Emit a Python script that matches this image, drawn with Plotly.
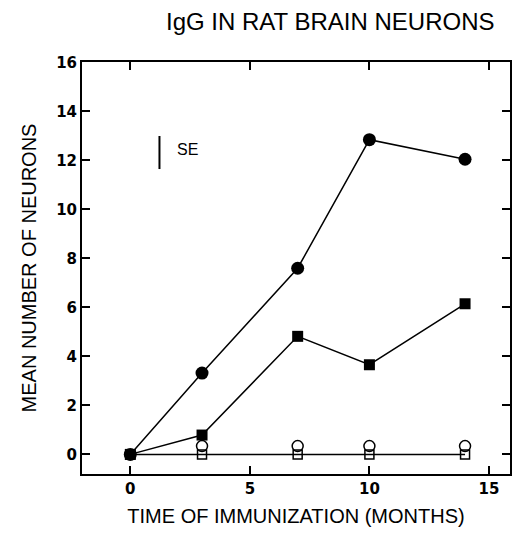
import plotly.graph_objects as go

months = [0, 3, 7, 10, 14]
filled_circle = [0, 3.32, 7.6, 12.85, 12.05]
filled_square = [0, 0.79, 4.82, 3.66, 6.15]
open_circle_x = [3, 7, 10, 14]
open_circle = [0.34, 0.34, 0.34, 0.34]
open_square = [0, 0, 0, 0, 0]

se_x = [1.22, 1.22]
se_y = [11.65, 13.0]

x_ticks = [0, 5, 10, 15]
y_ticks = [0, 2, 4, 6, 8, 10, 12, 14, 16]

fig = go.Figure()
fig.add_trace(go.Scatter(x=months, y=open_square, mode="lines+markers",
                         line=dict(color="black", width=1.5),
                         marker=dict(symbol="square-open", size=9, color="black",
                                     line=dict(width=1.5, color="black"))))
fig.add_trace(go.Scatter(x=open_circle_x, y=open_circle, mode="markers",
                         marker=dict(symbol="circle-open", size=11, color="black",
                                     line=dict(width=1.5, color="black"))))
fig.add_trace(go.Scatter(x=months, y=filled_square, mode="lines+markers",
                         line=dict(color="black", width=1.5),
                         marker=dict(symbol="square", size=11, color="black")))
fig.add_trace(go.Scatter(x=months, y=filled_circle, mode="lines+markers",
                         line=dict(color="black", width=1.5),
                         marker=dict(symbol="circle", size=13, color="black")))
fig.add_trace(go.Scatter(x=se_x, y=se_y, mode="lines",
                         line=dict(color="black", width=2)))

fig.add_annotation(x=1.88, y=12.45, xref="x", yref="y", text="SE", showarrow=False,
                   xanchor="left", yanchor="middle",
                   font=dict(family="Liberation Sans", size=16, color="black"))

fig.update_layout(
    width=512, height=541,
    margin=dict(l=82, r=0, t=62, b=67),
    paper_bgcolor="white", plot_bgcolor="white",
    showlegend=False,
    title=dict(text="IgG IN RAT BRAIN NEURONS", x=0.645, xanchor="center",
               y=1 - 22/541, yanchor="middle",
               font=dict(family="Liberation Sans", size=24, color="black")),
)
fig.update_xaxes(range=[-2.02, 15.88], tickvals=x_ticks, ticks="inside", ticklen=8,
                 tickwidth=1.5, tickcolor="black", showline=True, linecolor="black",
                 linewidth=2, mirror="ticks", showgrid=False, zeroline=False,
                 tickfont=dict(family="DejaVu Sans", size=15, color="black", weight="bold"),
                 title=dict(text="TIME OF IMMUNIZATION (MONTHS)", standoff=12,
                            font=dict(family="Liberation Sans", size=20, color="black")))
fig.update_yaxes(range=[-0.8, 16.02], tickvals=y_ticks, ticks="inside", ticklen=8,
                 tickwidth=1.5, tickcolor="black", showline=True, linecolor="black",
                 linewidth=2, mirror="ticks", showgrid=False, zeroline=False,
                 tickfont=dict(family="DejaVu Sans", size=15, color="black", weight="bold"),
                 title=dict(text="MEAN NUMBER OF NEURONS", standoff=14,
                            font=dict(family="Liberation Sans", size=20, color="black")))

fig.write_html("out.html")
